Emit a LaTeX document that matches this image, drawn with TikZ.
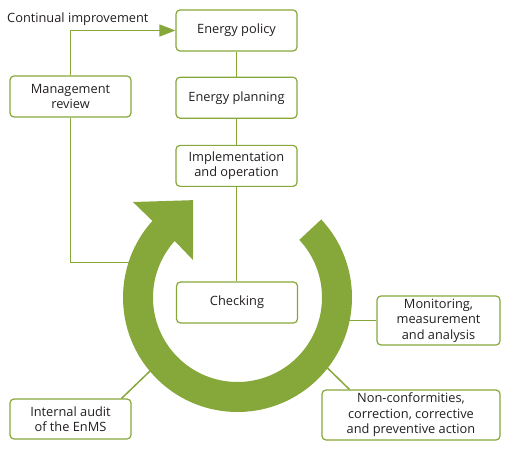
\documentclass[tikz,border=0pt]{standalone}
\usepackage{fontspec}
\setmainfont{Open Sans}
\usepackage{tikz}
\usetikzlibrary{arrows.meta,positioning,calc}
\definecolor{EnMSgreen}{HTML}{86A83A}
\definecolor{EnMStext}{HTML}{231F20}

\begin{document}
\begin{tikzpicture}[x=1pt,y=1pt,
    stage/.style={draw=EnMSgreen,line width=1.2pt,fill=white,rounded corners=4pt,
      minimum width=121pt,minimum height=41pt,inner sep=2pt,align=center,
      text=EnMStext,font=\fontsize{12.8}{15.5}\selectfont},
    link/.style={draw=EnMSgreen,line width=1.5pt}]
  \useasboundingbox (0,0) rectangle (513,469);
  % the cycle arrow
  \begin{scope}[shift={(237.5,171.5)}]
    \fill[EnMSgreen] (43:114.5) arc (43:-222:114.5) -- (137.6:141.6) -- (114.5:107)
      -- (139.9:58.2) -- (138:84.5) arc (-222:43:84.5) -- cycle;
    \coordinate (ringW) at (162:113);
    \coordinate (ringE) at (-11.3:113);
    \coordinate (ringSE) at (-38:113);
    \coordinate (ringSW) at (220:113);
  \end{scope}
  \node[stage] (policy) at (236.5,438.5) {Energy policy};
  \node[stage,below=25pt of policy] (planning) {Energy planning};
  \node[stage,below=26pt of planning] (implement) {Implementation\\and operation};
  \node[stage] (checking) at (237,166.5) {Checking};
  \node[stage] (review) at (70.5,372.5) {Management\\review};
  \node[stage,minimum width=123pt,minimum height=49pt] (monitor) at (438.5,148.5) {Monitoring,\\measurement\\and analysis};
  \node[stage,minimum width=178pt,minimum height=50pt] (nonconf) at (411,54) {Non-conformities,\\correction, corrective\\and preventive action};
  \node[stage,minimum height=40pt] (audit) at (70.5,50) {Internal audit\\of the EnMS};
  \node[anchor=base west,inner sep=0pt,text=EnMStext,font=\fontsize{12.8}{15.5}\selectfont] (improve) at (7,446.5) {Continual improvement};
  % connectors
  \draw[link] (policy) -- (planning);
  \draw[link] (planning) -- (implement);
  \draw[link] (implement.south) -- (implement.south |- checking.north);
  \draw[link,-{Triangle[length=16pt,width=12pt]}] (review.north) |- (policy.west);
  \draw[link] (review.south) |- (ringW);
  \draw[link] (monitor.west) -- (monitor.west -| ringE);
  \draw[link] (ringSE) -- ($(nonconf.north west)+(28,0)$);
  \draw[link] (ringSW) -- ($(audit.north east)+(-10,0)$);
\end{tikzpicture}
\end{document}
